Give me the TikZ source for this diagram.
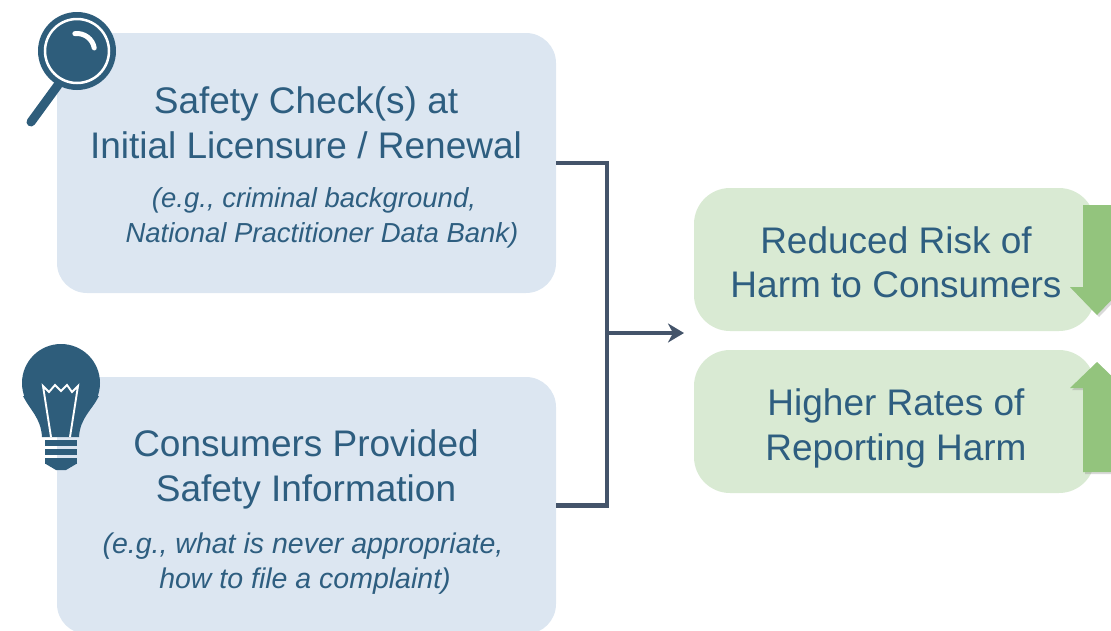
\documentclass[tikz,border=0pt]{standalone}
\usepackage{fontspec}
\setmainfont{Liberation Sans}
\usetikzlibrary{arrows.meta,shadows}
\definecolor{boxblue}{HTML}{DCE6F1}
\definecolor{boxgreen}{HTML}{D9EAD3}
\definecolor{txt}{HTML}{2E5E80}
\definecolor{icon}{HTML}{2E5D7B}
\definecolor{brk}{HTML}{44546A}
\definecolor{garrow}{HTML}{93C47D}
\tikzset{
  bluebox/.style={fill=boxblue, rounded corners=30pt},
  greenbox/.style={fill=boxgreen, rounded corners=36pt},
  maintxt/.style={anchor=base, text=txt, font=\fontsize{37}{46}\selectfont, inner sep=0pt},
  ittxt/.style={anchor=base, text=txt, font=\fontsize{27.5}{34}\selectfont\itshape, inner sep=0pt},
  ittxtb/.style={anchor=base, text=txt, font=\fontsize{28.5}{35}\selectfont\itshape, inner sep=0pt},
  connector/.style={draw=brk, line width=4.5pt},
  garr/.style={fill=garrow, drop shadow={shadow xshift=2pt, shadow yshift=-2pt, opacity=0.3}},
}
\begin{document}
\begin{tikzpicture}[x=1pt,y=-1pt]
\useasboundingbox (0,0) rectangle (1111,630);
% blue boxes
\path[bluebox] (57,33) rectangle (556,293);
\node[inner sep=0pt, minimum width=499pt, minimum height=260pt] (box1) at (306.5,163) {};
\path[bluebox] (57,377) rectangle (556,634);
\node[inner sep=0pt, minimum width=499pt, minimum height=257pt] (box2) at (306.5,505.5) {};
% green boxes
\path[greenbox] (694,188) rectangle (1095,331);
\node[inner sep=0pt, minimum width=401pt, minimum height=143pt] (g1) at (894.5,259.5) {};
\path[greenbox] (694,350) rectangle (1095,493);
\node[inner sep=0pt, minimum width=401pt, minimum height=143pt] (g2) at (894.5,421.5) {};
% texts
\node[maintxt] (t1a) at (306,113) {Safety Check(s) at};
\node[maintxt] (t1b) at (306,158) {Initial Licensure / Renewal};
\node[ittxt] (t1c) at (314,207) {(e.g., criminal background,};
\node[ittxt] (t1d) at (322,242) {National Practitioner Data Bank)};
\node[maintxt] (t2a) at (306,456) {Consumers Provided};
\node[maintxt] (t2b) at (306,501) {Safety Information};
\node[ittxtb] (t2c) at (303,553) {(e.g., what is never appropriate,};
\node[ittxtb] (t2d) at (305,588) {how to file a complaint)};
\node[maintxt] (t3a) at (896,253) {Reduced Risk of};
\node[maintxt] (t3b) at (896,297) {Harm to Consumers};
\node[maintxt] (t4a) at (896,415) {Higher Rates of};
\node[maintxt] (t4b) at (896,460) {Reporting Harm};
% bracket connector
\coordinate (bx) at (607,0);
\coordinate (arrend) at (684,333);
\draw[connector] (box1.east) -- (box1.east -| bx) -- (box2.east -| bx) -- (box2.east);
\draw[connector, -{Stealth[length=16pt,width=19pt,inset=5pt]}] (607,333) -- (arrend);
% green arrows
\path[garr] (1083,205) -- (1111,205) -- (1111,287) -- (1124,287) -- (1097,315) -- (1070,287) -- (1083,287) -- cycle;
\path[garr] (1083,472) -- (1111,472) -- (1111,388) -- (1124,388) -- (1097,362) -- (1070,388) -- (1083,388) -- cycle;
% magnifier icon
\draw[icon, line width=9pt, line cap=round] (58,85) -- (31,122);
\fill[icon] (77,51) circle (39);
\draw[white, line width=2.5pt] (77,51) circle (32);
\draw[white, line width=5pt, line cap=round] (77,51) ++(-97:17.5) arc (-97:-10:17.5);
% light bulb icon
\fill[icon] (61,383) circle (39);
\fill[icon] (23,396) .. controls (30,410) and (41,418) .. (42,437) -- (79,437) .. controls (80,418) and (92,410) .. (99,396) -- cycle;
\fill[icon] (45,440) rectangle (77,446);
\fill[icon] (45,449) rectangle (77,455);
\fill[icon] (45,458) rectangle (77,464);
\fill[icon] (45,463.5) -- (77,463.5) -- (66,470) -- (56,470) -- cycle;
\draw[white, line width=1.9pt, line join=miter] (51,437) -- (43,386) -- (49,392) -- (55,385) -- (61,391) -- (67,385) -- (72,392) -- (78,386) -- (70,437);
\end{tikzpicture}
\end{document}
